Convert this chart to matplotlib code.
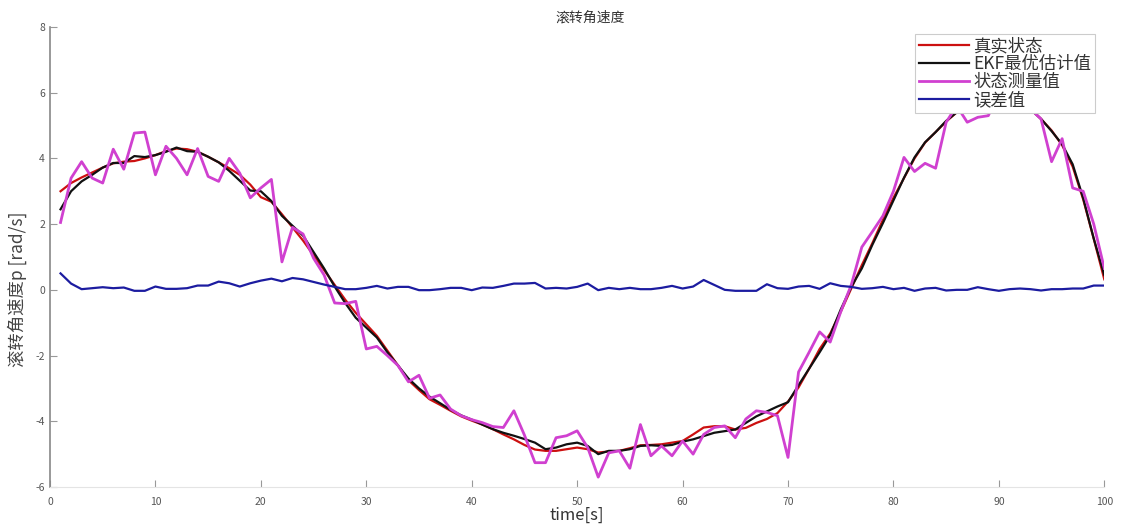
import numpy as np
import matplotlib
matplotlib.use("Agg")
import matplotlib.pyplot as plt

plt.rcParams['font.family'] = ['Noto Sans CJK SC', 'DejaVu Sans']
plt.rcParams['axes.unicode_minus'] = False

# time steps
t = np.arange(1, 101)

# true state
p_true = [3.0, 3.25, 3.42, 3.57, 3.72, 3.85, 3.9, 3.92, 4.0, 4.1,
          4.22, 4.3, 4.28, 4.2, 4.05, 3.88, 3.7, 3.5, 3.2, 2.82,
          2.68, 2.3, 1.9, 1.5, 1.05, 0.6, 0.15, -0.3, -0.7, -1.05,
          -1.4, -1.85, -2.3, -2.75, -3.05, -3.33, -3.5, -3.68, -3.85, -3.98,
          -4.1, -4.24, -4.4, -4.55, -4.72, -4.86, -4.9, -4.9, -4.85, -4.8,
          -4.85, -4.95, -4.92, -4.9, -4.82, -4.73, -4.72, -4.7, -4.65, -4.6,
          -4.4, -4.19, -4.15, -4.15, -4.25, -4.2, -4.05, -3.93, -3.75, -3.4,
          -2.97, -2.4, -1.8, -1.33, -0.67, 0.04, 0.75, 1.42, 2.13, 2.8,
          3.4, 4.0, 4.48, 4.8, 5.12, 5.4, 5.62, 5.78, 5.88, 5.9,
          5.85, 5.72, 5.5, 5.2, 4.85, 4.4, 3.75, 2.75, 1.55, 0.32]

# EKF estimate
p_ekf = [2.45, 3.0, 3.3, 3.5, 3.72, 3.86, 3.86, 4.07, 4.04, 4.1,
         4.2, 4.33, 4.22, 4.2, 4.05, 3.88, 3.62, 3.32, 3.02, 3.0,
         2.7, 2.25, 1.95, 1.65, 1.15, 0.65, 0.1, -0.4, -0.85, -1.15,
         -1.45, -1.9, -2.3, -2.7, -3.0, -3.25, -3.45, -3.65, -3.82, -3.95,
         -4.1, -4.24, -4.35, -4.44, -4.54, -4.65, -4.85, -4.8, -4.7, -4.65,
         -4.75, -5.0, -4.9, -4.9, -4.85, -4.75, -4.73, -4.75, -4.72, -4.62,
         -4.55, -4.45, -4.35, -4.3, -4.25, -4.05, -3.85, -3.7, -3.55, -3.42,
         -2.9, -2.4, -1.9, -1.38, -0.6, 0.09, 0.65, 1.37, 2.03, 2.72,
         3.41, 4.03, 4.49, 4.8, 5.14, 5.4, 5.6, 5.75, 5.85, 5.88,
         5.85, 5.72, 5.5, 5.2, 4.83, 4.43, 3.82, 2.79, 1.56, 0.45]

# measurements
p_meas = [2.05, 3.4, 3.9, 3.4, 3.25, 4.28, 3.67, 4.77, 4.8, 3.5,
          4.37, 4.0, 3.5, 4.3, 3.45, 3.3, 4.0, 3.55, 2.8, 3.1,
          3.36, 0.85, 1.9, 1.7, 0.96, 0.45, -0.4, -0.42, -0.35, -1.8,
          -1.72, -2.0, -2.3, -2.8, -2.6, -3.3, -3.2, -3.63, -3.83, -3.95,
          -4.04, -4.16, -4.19, -3.68, -4.42, -5.26, -5.26, -4.5, -4.44, -4.29,
          -4.8, -5.7, -4.96, -4.9, -5.43, -4.1, -5.05, -4.75, -5.05, -4.6,
          -5.0, -4.4, -4.19, -4.14, -4.5, -3.93, -3.68, -3.73, -3.83, -5.1,
          -2.5, -1.9, -1.28, -1.59, -0.67, 0.15, 1.3, 1.77, 2.25, 3.0,
          4.03, 3.6, 3.85, 3.7, 5.1, 5.6, 5.1, 5.25, 5.3, 6.0,
          5.7, 5.9, 5.5, 5.2, 3.9, 4.6, 3.1, 3.0, 2.0, 0.65]

# error
p_err = [0.5, 0.19, 0.02, 0.05, 0.08, 0.05, 0.07, -0.03, -0.03, 0.1,
         0.03, 0.03, 0.05, 0.13, 0.13, 0.25, 0.2, 0.1, 0.2, 0.28,
         0.34, 0.26, 0.36, 0.32, 0.24, 0.16, 0.09, 0.02, 0.02, 0.06,
         0.12, 0.04, 0.09, 0.09, -0.01, -0.01, 0.02, 0.06, 0.06, -0.01,
         0.07, 0.06, 0.12, 0.19, 0.19, 0.21, 0.04, 0.06, 0.04, 0.09,
         0.19, -0.01, 0.06, 0.02, 0.06, 0.02, 0.02, 0.06, 0.12, 0.04,
         0.1, 0.3, 0.15, 0.0, -0.03, -0.03, -0.03, 0.17, 0.05, 0.03,
         0.1, 0.12, 0.03, 0.2, 0.12, 0.09, 0.03, 0.05, 0.09, 0.02,
         0.06, -0.03, 0.04, 0.06, -0.02, 0.0, 0.0, 0.08, 0.02, -0.03,
         0.02, 0.04, 0.02, -0.02, 0.02, 0.02, 0.04, 0.04, 0.13, 0.13]

labels = ['真实状态', 'EKF最优估计值', '状态测量值', '误差值']

fig = plt.figure(figsize=(11.21, 5.24), dpi=100)
ax = fig.add_axes([0.0446, 0.0706, 0.9405, 0.878])

ax.plot(t, p_true, color='#cc1010', lw=1.6, label=labels[0])
ax.plot(t, p_ekf, color='#111111', lw=1.6, label=labels[1])
ax.plot(t, p_meas, color='#d040d0', lw=2.0, label=labels[2])
ax.plot(t, p_err, color='#1c1ca0', lw=1.6, label=labels[3])

ax.set_xlim(0, 100)
ax.set_ylim(-6, 8)
ax.set_xticks(np.arange(0, 101, 10))
ax.set_yticks(np.arange(-6, 9, 2))

for s in ['top', 'right']:
    ax.spines[s].set_visible(False)
ax.spines['left'].set_color('#888888')
ax.spines['left'].set_linewidth(1.2)
ax.spines['bottom'].set_color('#e4e4e4')
ax.tick_params(direction='in', length=5, color='#999999', labelcolor='#555555',
               labelsize=7.5)
ax.tick_params(axis='x', pad=7)

ax.set_title('滚转角速度', fontsize=10, color='#333333', pad=4, x=0.512)
ax.set_xlabel('time[s]', fontsize=12, color='#333333', labelpad=0)
ax.set_ylabel('滚转角速度p [rad/s]', fontsize=12.5, color='#444444')
ax.yaxis.set_label_coords(-0.022, 0.43)

leg = ax.legend(loc='upper right', bbox_to_anchor=(0.991, 0.985), borderaxespad=0,
                fontsize=12.5, labelspacing=0.0, handlelength=2.9, handletextpad=0.25,
                borderpad=0.2, fancybox=False, framealpha=1.0)
leg.get_frame().set_edgecolor('#cccccc')
leg.get_frame().set_linewidth(0.8)
for txt in leg.get_texts():
    txt.set_color('#333333')

fig.savefig('out.png', dpi=100)
